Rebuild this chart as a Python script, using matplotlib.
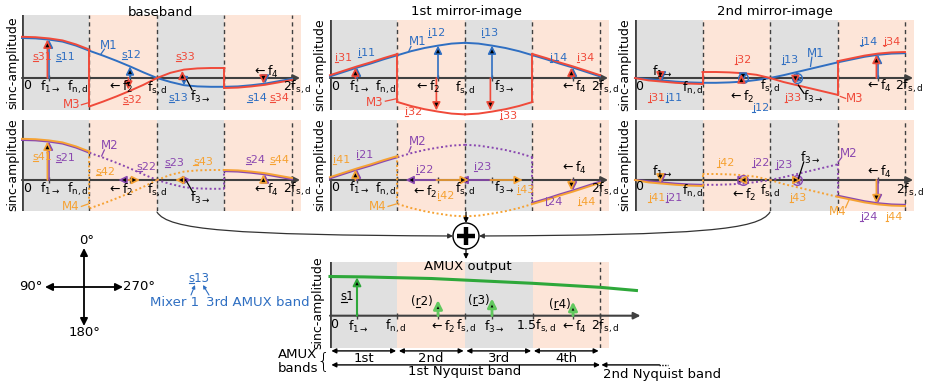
import matplotlib
matplotlib.use('Agg')
import numpy as np
import matplotlib.pyplot as plt
from matplotlib.patches import Circle, FancyArrowPatch
from matplotlib.path import Path
from matplotlib.lines import Line2D
from matplotlib.transforms import IdentityTransform

plt.rcParams['font.family'] = 'DejaVu Sans'
plt.rcParams['mathtext.fontset'] = 'dejavusans'
plt.rcParams['mathtext.default'] = 'regular'

# ---------------- data (frequency in units of f_s,d) ----------------
x_grid = [0.0, 0.1, 0.2, 0.3, 0.4, 0.5, 0.6, 0.7, 0.8, 0.9, 1.0,
          1.1, 1.2, 1.3, 1.4, 1.5, 1.6, 1.7, 1.8, 1.9, 2.0]
band_edges = [0.0, 0.5, 1.0, 1.5, 2.0]
f_sig = [0.2, 0.8, 1.2, 1.8]

# sinc-amplitude envelopes
amp_baseband = [1.00, 0.99, 0.96, 0.91, 0.81, 0.68, 0.56, 0.43, 0.29, 0.14, 0.00,
                -0.10, -0.18, -0.21, -0.22, -0.22, -0.21, -0.18, -0.14, -0.08, -0.02]
amp_mirror1 = [0.04, 0.15, 0.26, 0.36, 0.47, 0.57, 0.67, 0.75, 0.81, 0.86, 0.88,
               0.86, 0.81, 0.75, 0.67, 0.57, 0.47, 0.36, 0.26, 0.15, 0.04]
amp_mirror2 = [0.00, -0.03, -0.06, -0.09, -0.11, -0.12, -0.12, -0.11, -0.09, -0.05, 0.00,
               0.07, 0.15, 0.23, 0.31, 0.39, 0.46, 0.53, 0.58, 0.61, 0.62]

# mixer phase (deg) in each AMUX band
phase_m1 = [0, 0, 0, 0]
phase_m2 = [0, 90, 90, 180]
phase_m3 = [0, 180, 180, 0]
phase_m4 = [0, 270, 270, 180]

# AMUX output
amux_x = [0.0, 0.25, 0.5, 0.75, 1.0, 1.25, 1.5, 1.75, 2.0, 2.27]
amux_amp = [0.98, 0.97, 0.95, 0.93, 0.89, 0.85, 0.81, 0.76, 0.71, 0.63]
s1_amp = 0.96
residual_amp = [0.39, 0.43, 0.35]
band_names = ['1st', '2nd', '3rd', '4th']

# ---------------- style ----------------
BLUE = '#2f6fc2'
RED = '#f04a3a'
PURPLE = '#8a48b0'
ORANGE = '#f6a233'
GREEN = '#2ea83a'
GRAY_BAND = '#e0e0e0'
PEACH_BAND = '#fde5d8'
AX_COL = '#404040'

W, H = 928, 382
PX_FS = 135.0   # pixels per f_s,d
PX_AMP = 40.0   # pixels per unit amplitude
H_SCALE = PX_AMP / PX_FS
DIRS = {0: (0, 1), 90: (-1, 0), 180: (0, -1), 270: (1, 0)}
LAB_FS = 8

fig = plt.figure(figsize=(W / 100, H / 100), dpi=100)
renderer = fig.canvas.get_renderer()


def add_panel(left, top, bottom, zero, xmax=2.07):
    ax = fig.add_axes([left / W, 1 - bottom / H, xmax * PX_FS / W, (bottom - top) / H])
    ax.set_xlim(0, xmax)
    ax.set_ylim((zero - bottom) / PX_AMP, (zero - top) / PX_AMP)
    ax.axis('off')
    return ax


def panel_frame(ax, dashed, xend):
    cols = [GRAY_BAND, PEACH_BAND, GRAY_BAND, PEACH_BAND]
    stops = band_edges[:4] + [2.07]
    for k in range(4):
        ax.axvspan(stops[k], stops[k + 1], color=cols[k], lw=0, zorder=0)
    for x in dashed:
        ax.axvline(x, color=AX_COL, lw=1, ls=(0, (3, 2.5)), zorder=1)
    ax.axvline(0, color=AX_COL, lw=2, zorder=3)
    ax.annotate('', xy=(xend, 0), xytext=(0, 0), annotation_clip=False,
                arrowprops=dict(arrowstyle='-|>', color=AX_COL, lw=1.5,
                                mutation_scale=10, shrinkA=0, shrinkB=0))
    ax.plot(f_sig + band_edges[1:], [0] * 8, '|', color=AX_COL, ms=5, mew=1, zorder=3)


def phasor(ax, x, amp, phase, color, ms=12, lw=1.2):
    ux, uy = DIRS[phase]
    tip = (x + ux * amp * H_SCALE, uy * amp)
    ax.add_patch(FancyArrowPatch((x, 0), tip, arrowstyle='-|>', mutation_scale=ms,
                                 lw=lw, fc='black', ec=color, shrinkA=0, shrinkB=0,
                                 zorder=6, clip_on=False))


def draw_mode(ax, base, phases, color, second):
    prev = None
    for k in range(4):
        lo, hi = band_edges[k], band_edges[k + 1]
        sign = 1 if phases[k] in (0, 90) else -1
        dotted = phases[k] in (90, 270)
        xs, ys = [], []
        for x, a in zip(x_grid, base):
            if lo <= x <= hi:
                v = sign * a
                if second:
                    v += 0.03 * np.sign(v)
                xs.append(x)
                ys.append(v)
        ls = (0, (1, 1.3)) if dotted else '-'
        if prev is not None:
            jls = (0, (1, 1.3)) if (dotted or prev[1]) else '-'
            ax.plot([lo, lo], [prev[0], ys[0]], color=color, lw=1.4, ls=jls,
                    clip_on=False, zorder=4)
        ax.plot(xs, ys, color=color, lw=1.4, ls=ls, clip_on=False, zorder=4)
        prev = (ys[-1], dotted)
    for k, f in enumerate(f_sig):
        a = base[x_grid.index(f)]
        phasor(ax, f - (0.012 if second else 0), a, phases[k], color)


def text_width(s, fs):
    probe = fig.text(0, 0, s, fontsize=fs)
    w = probe.get_window_extent(renderer).width
    probe.remove()
    return w


def underlined(ax, ch, idx, x, y, color, fs=LAB_FS, pre='', post=''):
    # signal name: underlined letter followed by its index, e.g. s31
    t = ax.text(x, y, pre + ch + str(idx) + post, color=color, ha='center',
                va='center', fontsize=fs, zorder=7)
    bb = t.get_window_extent(renderer)
    x0 = bb.x0 + (text_width(pre, fs) if pre else 0)
    x1 = bb.x0 + text_width(pre + ch, fs)
    y_line = bb.y0 + 1.2
    fig.add_artist(Line2D([x0 + 0.3, x1 - 0.3], [y_line, y_line], color=color, lw=0.8,
                          transform=IdentityTransform()))


F_TXT = [r'f$_{1\rightarrow}$', r'$\leftarrow$f$_2$', r'f$_{3\rightarrow}$', r'$\leftarrow$f$_4$']


def tick_texts(ax, pos):
    # pos: 0, f1, fn, f2, fs, f3, f4, 2fs
    txt = ['0', F_TXT[0], 'f$_{n,d}$', F_TXT[1], 'f$_{s,d}$', F_TXT[2], F_TXT[3], '2f$_{s,d}$']
    for t, (x, y) in zip(txt, pos):
        ax.text(x, y, t, ha='center', va='center', fontsize=9, zorder=7)


def colored_texts(ax, letter, items):
    for t, x, y, c in items:
        if isinstance(t, int):
            underlined(ax, letter, t, x, y, c)
        else:
            ax.text(x, y, t, color=c, ha='center', va='center', fontsize=8.5, zorder=7)


def leaders(ax, items, lw=0.9):
    for x0, y0, x1, y1, c in items:
        ax.plot([x0, x1], [y0, y1], color=c, lw=lw, clip_on=False, zorder=7)


panels = {}
for col, left in enumerate([22, 330, 635]):
    top1 = 15 if col == 0 else 20
    panels[(0, col)] = add_panel(left, top1, 110, 78)
    panels[(1, col)] = add_panel(left, 120, 211, 180)

envelopes = [amp_baseband, amp_mirror1, amp_mirror2]
for col in range(3):
    for row in range(2):
        ax = panels[(row, col)]
        panel_frame(ax, band_edges[1:], 2.06)
        if row == 0:
            draw_mode(ax, envelopes[col], phase_m1, BLUE, False)
            draw_mode(ax, envelopes[col], phase_m3, RED, True)
        else:
            draw_mode(ax, envelopes[col], phase_m2, PURPLE, False)
            draw_mode(ax, envelopes[col], phase_m4, ORANGE, True)
        if col == 2:
            ring_col = BLUE if row == 0 else PURPLE
            ax.plot([0.8, 1.2], [0, 0], 'o', mfc='none', mec=ring_col, ms=7, mew=1, zorder=5)

# ---- baseband, top ----
ax = panels[(0, 0)]
colored_texts(ax, 's', [(31, 0.15, 0.53, RED), (11, 0.32, 0.53, BLUE),
                        ('M1', 0.64, 0.82, BLUE), (12, 0.81, 0.58, BLUE),
                        (33, 1.21, 0.53, RED), ('M3', 0.37, -0.67, RED),
                        (32, 0.82, -0.55, RED), (13, 1.16, -0.50, BLUE),
                        (14, 1.74, -0.50, BLUE), (34, 1.91, -0.50, RED)])
leaders(ax, [(0.61, 0.72, 0.585, 0.6, BLUE), (0.44, -0.67, 0.49, -0.62, RED),
             (1.22, -0.04, 1.26, -0.3, 'black')])
tick_texts(ax, [(0.035, -0.18), (0.21, -0.23), (0.41, -0.23), (0.73, -0.23),
                (1.0, -0.25), (1.32, -0.47), (1.80, 0.16), (2.04, -0.23)])

# ---- baseband, bottom ----
ax = panels[(1, 0)]
colored_texts(ax, 's', [(41, 0.15, 0.58, ORANGE), (21, 0.32, 0.54, PURPLE),
                        ('M2', 0.65, 0.875, PURPLE), (42, 0.62, 0.21, ORANGE),
                        (22, 0.92, 0.33, PURPLE), (23, 1.13, 0.42, PURPLE),
                        (43, 1.34, 0.46, ORANGE), (24, 1.73, 0.50, PURPLE),
                        (44, 1.91, 0.50, ORANGE), ('M4', 0.36, -0.67, ORANGE)])
leaders(ax, [(0.61, 0.75, 0.59, 0.6, PURPLE), (0.44, -0.66, 0.49, -0.6, ORANGE),
             (1.22, -0.04, 1.265, -0.3, 'black')])
tick_texts(ax, [(0.035, -0.2), (0.21, -0.23), (0.41, -0.23), (0.73, -0.25),
                (1.0, -0.25), (1.32, -0.44), (1.80, -0.25), (2.04, -0.23)])

# ---- 1st mirror, top ----
ax = panels[(0, 1)]
colored_texts(ax, 'i', [(31, 0.10, 0.49, RED), (11, 0.27, 0.62, BLUE),
                        ('M1', 0.65, 0.91, BLUE), (12, 0.79, 1.12, BLUE),
                        (13, 1.185, 1.12, BLUE), (14, 1.69, 0.49, BLUE),
                        (34, 1.89, 0.49, RED), ('M3', 0.33, -0.60, RED),
                        (32, 0.62, -0.86, RED), (33, 1.32, -0.94, RED)])
leaders(ax, [(0.6, 0.79, 0.585, 0.68, BLUE), (0.41, -0.58, 0.49, -0.52, RED)])
tick_texts(ax, [(0.035, -0.2), (0.22, -0.23), (0.41, -0.23), (0.72, -0.23),
                (1.0, -0.25), (1.29, -0.23), (1.80, -0.23), (2.04, -0.23)])

# ---- 1st mirror, bottom ----
ax = panels[(1, 1)]
colored_texts(ax, 'i', [(41, 0.087, 0.5, ORANGE), (21, 0.26, 0.625, PURPLE),
                        ('M2', 0.65, 0.96, PURPLE), (22, 0.70, 0.25, PURPLE),
                        (23, 1.13, 0.33, PURPLE), (42, 0.86, -0.40, ORANGE),
                        (43, 1.45, -0.25, ORANGE), ('M4', 0.35, -0.67, ORANGE),
                        (24, 1.66, -0.54, PURPLE), (44, 1.90, -0.54, ORANGE)])
leaders(ax, [(0.6, 0.83, 0.585, 0.7, PURPLE), (0.43, -0.66, 0.49, -0.6, ORANGE)])
tick_texts(ax, [(0.035, -0.18), (0.22, -0.21), (0.41, -0.24), (0.70, -0.29),
                (1.0, -0.22), (1.29, -0.21), (1.80, 0.29), (2.04, -0.24)])

# ---- 2nd mirror, top ----
ax = panels[(0, 2)]
colored_texts(ax, 'j', [(32, 0.80, 0.45, RED), (13, 1.15, 0.45, BLUE),
                        ('M1', 1.34, 0.62, BLUE), (14, 1.73, 0.91, BLUE),
                        (34, 1.90, 0.91, RED), (31, 0.16, -0.51, RED),
                        (11, 0.29, -0.51, BLUE), (12, 0.93, -0.76, BLUE),
                        (33, 1.17, -0.51, RED), ('M3', 1.63, -0.51, RED)])
leaders(ax, [(1.31, 0.52, 1.3, 0.29, BLUE), (1.56, -0.51, 1.52, -0.46, RED),
             (1.21, -0.18, 1.25, -0.38, 'black')])
tick_texts(ax, [(0.03, -0.2), (0.20, 0.16), (0.43, -0.26), (0.79, -0.47),
                (1.0, -0.2), (1.32, -0.47), (1.80, -0.2), (2.03, -0.2)])

# ---- 2nd mirror, bottom ----
ax = panels[(1, 2)]
colored_texts(ax, 'j', [(42, 0.67, 0.42, ORANGE), (22, 0.93, 0.42, PURPLE),
                        (23, 1.10, 0.375, PURPLE), ('M2', 1.58, 0.67, PURPLE),
                        (41, 0.16, -0.46, ORANGE), (21, 0.29, -0.46, PURPLE),
                        (43, 1.21, -0.46, ORANGE), ('M4', 1.50, -0.79, ORANGE),
                        (24, 1.73, -0.92, PURPLE), (44, 1.92, -0.92, ORANGE)])
leaders(ax, [(1.53, 0.56, 1.505, 0.45, PURPLE), (1.56, -0.69, 1.585, -0.5, ORANGE),
             (1.21, 0.03, 1.25, 0.45, 'black')])
tick_texts(ax, [(0.03, -0.15), (0.20, 0.21), (0.43, -0.29), (0.80, -0.375),
                (1.0, -0.29), (1.30, 0.55), (1.80, 0.21), (2.04, -0.25)])

# ---------------- AMUX output ----------------
axb = add_panel(330, 262, 348, 315.7, xmax=2.3)
panel_frame(axb, [2.0], 2.3)
axb.plot(amux_x, amux_amp, color=GREEN, lw=2.2, zorder=4, clip_on=False)
axb.add_patch(FancyArrowPatch((0.2, 0), (0.2, s1_amp), arrowstyle='-|>', mutation_scale=12,
                              lw=1.5, fc='black', ec=GREEN, shrinkA=0, shrinkB=0, zorder=6))
for f, r in zip(f_sig[1:], residual_amp):
    axb.add_patch(FancyArrowPatch((f, 0), (f, r), arrowstyle='-|>', mutation_scale=13,
                                  lw=2, fc='black', ec='#62c85e', shrinkA=0, shrinkB=0,
                                  zorder=6))
axb.text(1.02, 1.23, 'AMUX output', ha='center', va='center', fontsize=9.5)
underlined(axb, 's', 1, 0.13, 0.47, 'black', fs=8.5)
for k, (x, y) in enumerate([(0.68, 0.35), (1.10, 0.39), (1.70, 0.29)]):
    underlined(axb, 'r', k + 2, x, y, 'black', fs=8.5, pre='(', post=')')
b_txt = ['0', F_TXT[0], 'f$_{n,d}$', F_TXT[1], 'f$_{s,d}$', F_TXT[2],
         '1.5f$_{s,d}$', F_TXT[3], '2f$_{s,d}$']
b_x = [0.03, 0.21, 0.49, 0.83, 1.01, 1.22, 1.53, 1.80, 2.04]
for t, x in zip(b_txt, b_x):
    axb.text(x, -0.27 if t != '0' else -0.22, t, ha='center', va='center', fontsize=9)

# AMUX band arrows below the axis
arr2 = dict(arrowstyle='<|-|>', color='black', lw=1, mutation_scale=7, shrinkA=0, shrinkB=0)
for k, name in enumerate(band_names):
    lo, hi = band_edges[k], band_edges[k + 1]
    axb.annotate('', xy=(hi - 0.01, -0.88), xytext=(lo + 0.01, -0.88),
                 arrowprops=arr2, annotation_clip=False)
    axb.text((lo + hi) / 2, -1.07, name, ha='center', va='center', fontsize=9.5)
axb.annotate('', xy=(2.0, -1.23), xytext=(0.01, -1.23), arrowprops=arr2, annotation_clip=False)
axb.text(1.0, -1.40, '1st Nyquist band', ha='center', va='center', fontsize=9.5)
axb.annotate('', xy=(2.01, -1.23), xytext=(2.44, -1.23), annotation_clip=False,
             arrowprops=dict(arrowstyle='-|>', color='black', lw=1, mutation_scale=7,
                             shrinkA=0, shrinkB=0))
axb.plot([2.44, 2.5], [-1.23, -1.23], color='black', lw=1, ls=(0, (1, 1)), clip_on=False)
axb.text(2.02, -1.46, '2nd Nyquist band', ha='left', va='center', fontsize=9.5)

# ---------------- overlay in pixel coordinates ----------------
ov = fig.add_axes([0, 0, 1, 1])
ov.set_xlim(0, W)
ov.set_ylim(H, 0)
ov.axis('off')
ov.patch.set_alpha(0)

for x, t in [(160, 'baseband'), (467, '1st mirror-image'), (775, '2nd mirror-image')]:
    ov.text(x, 12, t, ha='center', va='center', fontsize=9.5)
for x, y in [(13, 63), (13, 165), (320, 65), (320, 165), (625, 65), (625, 165), (318, 303)]:
    ov.text(x, y, 'sinc-amplitude', rotation=90, ha='center', va='center', fontsize=9)

# summation node
cx, cy = 466, 236
ov.add_patch(Circle((cx, cy), 13, fc='white', ec='black', lw=1, zorder=5))
ov.plot([cx - 9, cx + 9], [cy, cy], color='black', lw=3.2, zorder=6, solid_capstyle='butt')
ov.plot([cx, cx], [cy - 9, cy + 9], color='black', lw=3.2, zorder=6, solid_capstyle='butt')
small = dict(arrowstyle='-|>', color='black', lw=0.9, mutation_scale=7, shrinkA=0, shrinkB=0)
ov.annotate('', xy=(cx, cy - 13), xytext=(cx, 212), arrowprops=small)
ov.annotate('', xy=(cx, 259), xytext=(cx, cy + 13), arrowprops=small)
left_path = Path([(157, 212), (168, 230), (230, 235), (cx - 13, cy)],
                 [Path.MOVETO, Path.CURVE4, Path.CURVE4, Path.CURVE4])
right_path = Path([(770, 212), (759, 230), (700, 235), (cx + 13, cy)],
                  [Path.MOVETO, Path.CURVE4, Path.CURVE4, Path.CURVE4])
for p in (left_path, right_path):
    ov.add_patch(FancyArrowPatch(path=p, arrowstyle='-|>', mutation_scale=7,
                                 color='#333333', lw=0.9))

# phase compass
ccx, ccy = 84, 287
for (tx, ty), lab, (lx, ly) in [((84, 248), '0°', (87, 240)), ((84, 326), '180°', (85, 333)),
                                ((45, 287), '90°', (31, 287)), ((123, 287), '270°', (139, 287))]:
    ov.annotate('', xy=(tx, ty), xytext=(ccx, ccy),
                arrowprops=dict(arrowstyle='-|>', color='black', lw=1.3, mutation_scale=11,
                                shrinkA=0, shrinkB=0))
    ov.text(lx, ly, lab, ha='center', va='center', fontsize=9.5)

# naming key
underlined(ov, 's', 13, 199, 278, BLUE, fs=8.5)
ov.text(175, 302, 'Mixer 1', color=BLUE, ha='center', va='center', fontsize=9.5)
ov.text(258, 302, '3rd AMUX band', color=BLUE, ha='center', va='center', fontsize=9.5)
blue_arr = dict(arrowstyle='-|>', color=BLUE, lw=0.8, mutation_scale=5, shrinkA=0, shrinkB=0)
ov.annotate('', xy=(195, 285), xytext=(191, 295), arrowprops=blue_arr)
ov.annotate('', xy=(203, 285), xytext=(209, 295), arrowprops=blue_arr)

ov.text(278, 355, 'AMUX', ha='left', va='center', fontsize=9.5)
ov.text(278, 368, 'bands', ha='left', va='center', fontsize=9.5)
ov.text(323, 361, '{', ha='center', va='center', fontsize=15, fontweight='light')

fig.savefig('out.png', dpi=100, facecolor='white')
